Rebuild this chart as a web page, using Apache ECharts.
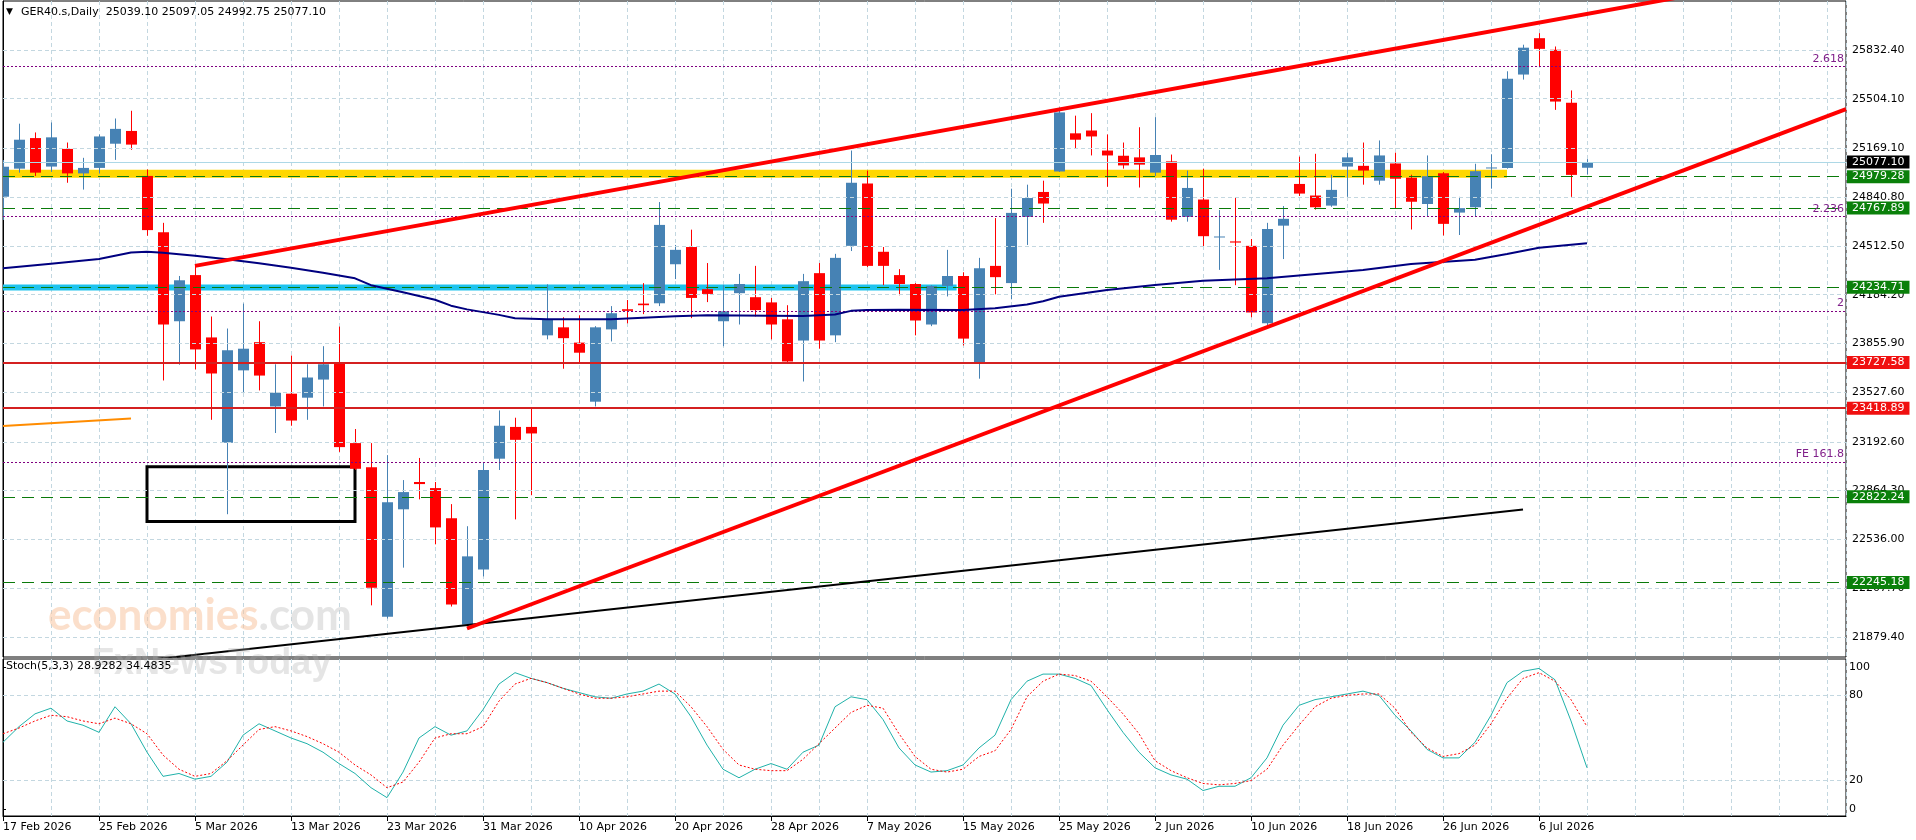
<!DOCTYPE html>
<html><head><meta charset="utf-8">
<script src="https://cdn.jsdelivr.net/npm/echarts@6/dist/echarts.min.js"></script>
<style>html,body{margin:0;padding:0;background:#fff}#c{width:1916px;height:840px}</style>
</head><body><div id="c"></div><script>
// ---------- DATA ----------
const dates = ['17 Feb 2026','18 Feb 2026','19 Feb 2026','20 Feb 2026','23 Feb 2026','24 Feb 2026','25 Feb 2026','26 Feb 2026','27 Feb 2026',
'2 Mar 2026','3 Mar 2026','4 Mar 2026','5 Mar 2026','6 Mar 2026','9 Mar 2026','10 Mar 2026','11 Mar 2026','12 Mar 2026','13 Mar 2026','16 Mar 2026','17 Mar 2026','18 Mar 2026','19 Mar 2026','20 Mar 2026','23 Mar 2026','24 Mar 2026','25 Mar 2026','26 Mar 2026','27 Mar 2026','30 Mar 2026','31 Mar 2026',
'1 Apr 2026','2 Apr 2026','7 Apr 2026','8 Apr 2026','9 Apr 2026','10 Apr 2026','13 Apr 2026','14 Apr 2026','15 Apr 2026','16 Apr 2026','17 Apr 2026','20 Apr 2026','21 Apr 2026','22 Apr 2026','23 Apr 2026','24 Apr 2026','27 Apr 2026','28 Apr 2026','29 Apr 2026','30 Apr 2026',
'4 May 2026','5 May 2026','6 May 2026','7 May 2026','8 May 2026','11 May 2026','12 May 2026','13 May 2026','14 May 2026','15 May 2026','18 May 2026','19 May 2026','20 May 2026','21 May 2026','22 May 2026','25 May 2026','26 May 2026','27 May 2026','28 May 2026','29 May 2026',
'1 Jun 2026','2 Jun 2026','3 Jun 2026','4 Jun 2026','5 Jun 2026','8 Jun 2026','9 Jun 2026','10 Jun 2026','11 Jun 2026','12 Jun 2026','15 Jun 2026','16 Jun 2026','17 Jun 2026','18 Jun 2026','19 Jun 2026','22 Jun 2026','23 Jun 2026','24 Jun 2026','25 Jun 2026','26 Jun 2026','29 Jun 2026','30 Jun 2026',
'1 Jul 2026','2 Jul 2026','3 Jul 2026','6 Jul 2026','7 Jul 2026','8 Jul 2026','9 Jul 2026'];

const opens  = [24844,25033,25239,25047,25166,25001,25038,25201,25287,24984,24605,24005,24316,23896,23187,23674,23864,23431,23517,23490,23612,23720,23184,23022,22015,22738,22922,22881,22678,21961,22332,23079,23293,23293,23910,23964,23861,23463,23950,24086,24124,24126,24389,24505,24221,24005,24194,24167,24132,24018,23875,24329,23910,24513,24933,24473,24316,24256,23983,24243,24310,23726,24378,24262,24708,24876,25014,25271,25290,25155,25120,25109,25006,25082,24708,24825,24570,24543,24513,23991,24649,24930,24852,24784,25047,25052,24952,25068,24972,24795,25002,24737,24773,25035,25038,25667,25912,25834,25477,25039.10];
const highs  = [25091,25336,25277,25344,25209,25106,25263,25371,25423,25028,24668,24310,24378,24037,23956,24124,24005,23715,23774,23715,23837,23969,23279,23184,23103,22935,23084,22922,22773,22624,23057,23404,23355,23423,24254,24032,24045,23972,24107,24148,24262,24808,24519,24622,24397,24248,24324,24378,24162,24113,24324,24397,24459,25155,25020,24505,24356,24262,24248,24486,24335,24432,24700,24898,24925,24952,25445,25390,25407,25263,25209,25312,25380,25128,25020,25033,24754,24838,24559,24668,24781,25114,25133,24992,25141,25209,25223,25141,24992,25122,25010,24843,25066,25130,25689,25868,25946,25856,25560,25097.05];
const lows   = [24687,25006,24984,25011,24938,24892,25000,25092,25160,24581,23606,23712,23680,23341,22705,23523,23539,23252,23301,23341,23431,23125,23003,22091,22002,22345,22805,22502,22083,21947,22286,23003,22670,22833,23883,23685,23720,23431,23869,23991,24053,24107,24289,24026,24134,23837,23983,24037,23883,23728,23599,23820,23864,24478,24370,24248,24180,23910,23972,24172,23842,23618,24186,24153,24519,24668,25011,25168,25122,24911,25033,24906,24984,24676,24676,24505,24351,24248,24032,23977,24424,24849,24757,24776,24843,24925,24925,24762,24623,24711,24583,24586,24711,24898,25033,25633,25722,25429,24843,24992.75];
const closes = [25046,25228,25006,25244,25001,25038,25250,25301,25195,24619,23983,24281,23815,23653,23810,23820,23639,23523,23336,23626,23715,23157,23011,22210,22786,22854,22908,22616,22096,22421,23003,23301,23206,23249,24018,23891,23793,23964,24059,24075,24113,24654,24486,24162,24189,24072,24256,24080,23983,23734,24275,23875,24432,24938,24378,24378,24256,24010,24243,24310,23888,24362,24302,24735,24835,24798,25412,25228,25250,25122,25055,25060,25125,24689,24903,24578,24576,24535,24064,24627,24695,24865,24773,24890,25109,25020,25122,24965,24810,24982,24661,24767,25016,25041,25639,25848,25840,25485,24991,25077.10];

const maIdx = [0,3,6,8,9,10,12,14,16,18,20,22,23,25,27,28,29,31,32,34,38,42,44,50,52,53,54,56,60,62,64,65,66,69,72,75,79,85,88,92,94,96,99];
const maVal = [24362,24393,24424,24468,24473,24467,24447,24422,24396,24365,24332,24294,24248,24200,24150,24110,24085,24048,24025,24018,24018,24038,24045,24040,24050,24075,24080,24082,24081,24092,24118,24140,24170,24215,24249,24278,24294,24350,24390,24420,24458,24500,24530];

const stochK = [47,58,67,71,62,59,54,72,60,40,23,25,21,23,33,52,60,55,50,46,40,32,25,15,8,26,50,58,52,55,70,88,96,92,89,85,82,79,78,81,83,88,81,65,45,28,22,28,32,28,40,45,72,79,77,63,43,31,26,27,31,43,52,77,90,95,95,92,87,70,54,40,29,24,21,13,16,16,22,36,59,73,77,79,81,83,80,66,55,42,36,36,47,66,89,97,99,91,62,29];
const stochD = [53,57,62,66,65,62,60,64,60,53,38,28,23,25,34,45,56,58,55,51,46,40,31,24,15,19,33,50,53,53,58,76,88,92,89,85,81,78,78,79,81,83,83,72,58,42,31,28,27,27,35,46,57,68,73,71,53,37,28,26,28,37,41,56,79,90,95,94,90,79,67,53,34,27,22,18,17,18,20,28,45,59,72,78,80,81,81,71,54,43,37,39,45,60,78,92,96,90,77,58];

const priceTicks = [25832.40,25504.10,25169.10,24840.80,24512.50,24184.20,23855.90,23527.60,23192.60,22864.30,22536.00,22207.70,21879.40];
const stochTicks = [0,20,80,100];
const stochLevels = [20,80];
const greenLevels = [24979.28,24767.89,24234.71,22822.24,22245.18];
const redLevels = [23727.58,23418.89];
const fibLevels = [25723,24709,24074,23056];
const fibNames = ['2.618','2.236','2','FE 161.8'];
const lastPrice = 25077.10;
const header = 'GER40.s,Daily  25039.10 25097.05 24992.75 25077.10';
const stochHeader = 'Stoch(5,3,3) 28.9282 34.4835';

const upperTrend = [[12,24378],[110,26290]];
const lowerTrend = [[29,21935],[115.1875,25434]];
const blackTrend = [[0,21616],[95,22736]];
const orangeLine = [[0,23300],[8,23349]];
const yellowBand = [[0,24999],[94,24999]];
const cyanBand = [[0,24233],[59.6,24233]];
const boxCorners = [[9,23024],[22,22656]];

// ---------- CHART ----------
const XMAX = 115.1875, YMIN = 21743, YMAX = 26162.5;
const FONT = 'DejaVu Sans';
const gridColor = '#C3D7E0';
const BULL = '#4682B4', BEAR = '#FF0000';
const chart = echarts.init(document.getElementById('c'), null, {renderer:'canvas'});

const candleData = dates.map((d,i)=>[i, opens[i], closes[i], lows[i], highs[i]]);
function renderCandle(params, api){
  const i = api.value(0), o = api.value(1), c = api.value(2), l = api.value(3), h = api.value(4);
  const pO = api.coord([i,o]), pC = api.coord([i,c]), pL = api.coord([i,l]), pH = api.coord([i,h]);
  const col = c >= o ? BULL : BEAR;
  const cx = Math.round(pO[0]);
  const top = Math.min(pO[1], pC[1]);
  const bh = Math.max(1, Math.abs(pO[1]-pC[1]));
  return {type:'group', children:[
    {type:'line', shape:{x1:cx+0.5, y1:pH[1], x2:cx+0.5, y2:pL[1]}, style:{stroke:col, lineWidth:1}},
    {type:'rect', shape:{x:cx-5, y:top, width:11, height:bh}, style:{fill:col}}
  ]};
}
const tagLabel = (bg)=>({show:true, position:'end', distance:1, color:'#fff', backgroundColor:bg, fontFamily:FONT, fontSize:11, lineHeight:12, padding:[1,5,0,5], formatter: p=>p.value.toFixed(2)});

const levelMarks = [];
greenLevels.forEach(v=>levelMarks.push({yAxis:v, lineStyle:{color:'#0A7A0A', width:1, type:[12,7]}, label:tagLabel('#0A800A')}));
redLevels.forEach(v=>levelMarks.push({yAxis:v, lineStyle:{color:'#D42020', width:2, type:'solid'}, label:tagLabel('#F01010')}));
fibLevels.forEach((v,k)=>levelMarks.push({yAxis:v, lineStyle:{color:'#800080', width:1, type:[2,2]}, label:{show:true, position:'insideEndTop', distance:2, color:'#80208A', fontFamily:FONT, fontSize:11, formatter: fibNames[k]}}));
levelMarks.push({yAxis:lastPrice, lineStyle:{color:'#ADD8E6', width:1, type:'solid'}, label:tagLabel('#000')});

const labelIdx = dates.map((d,i)=>i).filter(i=>i%6===0);

const option = {
  animation:false,
  backgroundColor:'#fff',
  textStyle:{fontFamily:FONT},
  grid:[
    {left:3, right:70, top:1, height:656, show:true, borderColor:'#000', borderWidth:1, backgroundColor:'transparent'},
    {left:3, right:70, top:659, height:157, show:true, borderColor:'#000', borderWidth:1, backgroundColor:'transparent'}
  ],
  xAxis:[
    {gridIndex:0, type:'value', min:0, max:XMAX, interval:3, axisLine:{show:false}, axisTick:{show:false}, axisLabel:{show:false}, splitLine:{show:true, lineStyle:{color:gridColor, type:[4,3], width:1}}},
    {gridIndex:1, type:'value', min:0, max:XMAX, interval:3, axisLine:{show:false}, axisTick:{show:false}, axisLabel:{show:false}, splitLine:{show:true, lineStyle:{color:gridColor, type:[4,3], width:1}}},
    {gridIndex:1, type:'value', min:0, max:XMAX, position:'bottom', axisLine:{show:true, lineStyle:{color:'#000', width:1}},
      axisTick:{show:true, customValues:labelIdx, length:5, lineStyle:{color:'#000'}},
      axisLabel:{show:true, customValues:labelIdx, align:'left', margin:6, color:'#000', fontFamily:FONT, fontSize:11,
        formatter:v=>{const i=Math.round(v); return (Math.abs(v-i)<1e-6 && i%6===0 && i<dates.length)?dates[i]:'';}},
      splitLine:{show:false}}
  ],
  yAxis:[
    {gridIndex:0, type:'value', position:'right', min:YMIN, max:YMAX, axisLine:{show:true, lineStyle:{color:'#000'}},
      axisTick:{show:true, customValues:priceTicks, length:3, lineStyle:{color:'#000'}},
      axisLabel:{show:true, customValues:priceTicks, margin:6, color:'#000', fontFamily:FONT, fontSize:11, formatter:v=>v.toFixed(2)},
      splitLine:{show:false}},
    {gridIndex:1, type:'value', position:'right', min:-4.93, max:105.63, axisLine:{show:true, lineStyle:{color:'#000'}},
      axisTick:{show:true, customValues:stochTicks, length:3, lineStyle:{color:'#000'}},
      axisLabel:{show:true, customValues:stochTicks, margin:3, color:'#000', fontFamily:FONT, fontSize:11, formatter:v=>String(Math.round(v))},
      splitLine:{show:false}}
  ],
  series:[
    {name:'grid', type:'line', xAxisIndex:0, yAxisIndex:0, data:[], z:0, silent:true,
      markLine:{silent:true, symbol:['none','none'], label:{show:false}, lineStyle:{color:gridColor, type:[4,3], width:1}, data:priceTicks.map(v=>({yAxis:v}))}},
    {name:'bands', type:'line', xAxisIndex:0, yAxisIndex:0, data:yellowBand, symbol:'none', lineStyle:{color:'#FFD700', width:8}, z:1, silent:true},
    {name:'cyan', type:'line', xAxisIndex:0, yAxisIndex:0, data:cyanBand, symbol:'none', lineStyle:{color:'#1EC3EE', width:6}, z:1, silent:true},
    {name:'candles', type:'custom', xAxisIndex:0, yAxisIndex:0, data:candleData, renderItem:renderCandle, clip:true, z:3,
      encode:{x:0, y:[1,2,3,4]}},
    {name:'levels', type:'line', xAxisIndex:0, yAxisIndex:0, data:[], z:4, silent:true,
      markLine:{silent:true, symbol:['none','none'], data:levelMarks}},
    {name:'box', type:'line', xAxisIndex:0, yAxisIndex:0, data:[], z:4, silent:true,
      markArea:{silent:true, itemStyle:{color:'rgba(0,0,0,0)', borderColor:'#000', borderWidth:3}, data:[[{coord:boxCorners[0]},{coord:boxCorners[1]}]]}},
    {name:'MA', type:'line', xAxisIndex:0, yAxisIndex:0, data:maIdx.map((x,k)=>[x,maVal[k]]), symbol:'none', lineStyle:{color:'#000080', width:2}, z:5, silent:true},
    {name:'orange', type:'line', xAxisIndex:0, yAxisIndex:0, data:orangeLine, symbol:'none', lineStyle:{color:'#FF8C00', width:2}, z:5, silent:true},
    {name:'black', type:'line', xAxisIndex:0, yAxisIndex:0, data:blackTrend, symbol:'none', lineStyle:{color:'#000', width:2}, z:6, clip:true, silent:true},
    {name:'upper', type:'line', xAxisIndex:0, yAxisIndex:0, data:upperTrend, symbol:'none', lineStyle:{color:'#FF0000', width:4}, z:6, clip:true, silent:true},
    {name:'lower', type:'line', xAxisIndex:0, yAxisIndex:0, data:lowerTrend, symbol:'none', lineStyle:{color:'#FF0000', width:4}, z:6, clip:true, silent:true},
    {name:'sgrid', type:'line', xAxisIndex:2, yAxisIndex:1, data:[], z:0, silent:true,
      markLine:{silent:true, symbol:['none','none'], label:{show:false}, lineStyle:{color:gridColor, type:[4,3], width:1}, data:stochLevels.map(v=>({yAxis:v}))}},
    {name:'K', type:'line', xAxisIndex:2, yAxisIndex:1, data:stochK.map((v,i)=>[i,v]), symbol:'none', lineStyle:{color:'#20B2AA', width:1}, z:5, silent:true},
    {name:'D', type:'line', xAxisIndex:2, yAxisIndex:1, data:stochD.map((v,i)=>[i,v]), symbol:'none', lineStyle:{color:'#FF0000', width:1, type:[2,2]}, z:5, silent:true}
  ],
  graphic:[
    {type:'text', left:6, top:7, z:100, style:{text:'▼', font:'9px "DejaVu Sans"', fill:'#000'}},
    {type:'text', left:21, top:7, z:100, style:{text:header, font:'11px "DejaVu Sans"', fill:'#000'}},
    {type:'text', left:6, top:661, z:100, style:{text:stochHeader, font:'11px "DejaVu Sans"', fill:'#000'}},
    {type:'text', left:48, top:594, z:90, style:{text:'{a|economies}{b|.com}', rich:{a:{font:'bold 44px Lato', fill:'rgba(247,196,160,0.55)'}, b:{font:'bold 44px Lato', fill:'rgba(205,205,205,0.55)'}}}},
    {type:'text', left:92, top:646, z:90, style:{text:'FxNewsToday', font:'bold 36px "Liberation Sans"', fill:'rgba(170,170,170,0.3)'}}
  ]
};
chart.setOption(option);
</script></body></html>
